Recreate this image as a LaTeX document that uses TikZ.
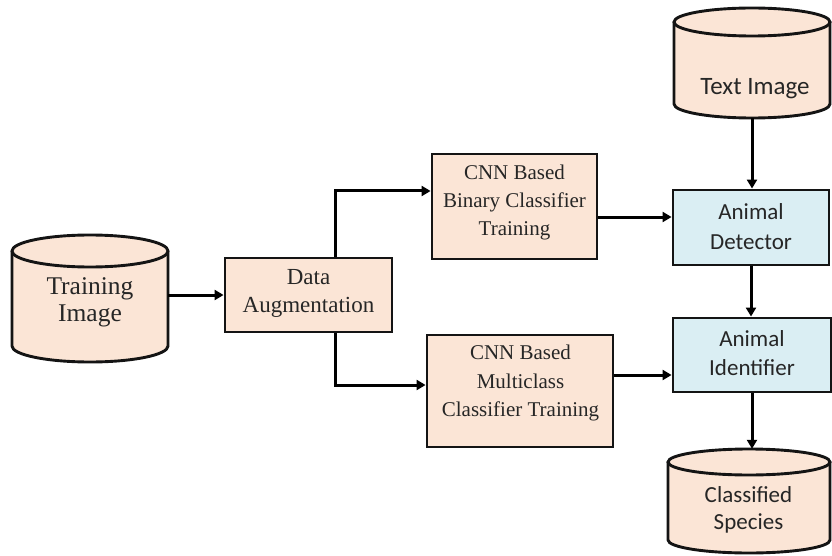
\documentclass[tikz,border=0pt]{standalone}
\usepackage{fontspec}
\setmainfont{Liberation Serif}
\newfontfamily\calfont{Carlito}
\usetikzlibrary{arrows.meta}

\definecolor{peach}{HTML}{FBE5D6}
\definecolor{paleblue}{HTML}{DAEEF3}
\definecolor{inkline}{HTML}{141414}
\definecolor{inktext}{HTML}{262626}

\tikzset{
  outline/.style={draw=inkline, line width=2.9pt},
  stage/.style={outline, fill=peach, rectangle, inner sep=0pt},
  module/.style={outline, fill=paleblue, rectangle, inner sep=0pt},
  hull/.style={draw=none, fill=none, rectangle, inner sep=0pt},
  serifcap/.style={text=inktext, align=center, inner sep=0pt},
  sanscap/.style={text=inktext, align=center, inner sep=0pt,
    font=\calfont\fontsize{23}{30}\selectfont},
  flow/.style={draw=black, line width=3pt,
    -{Triangle[length=9pt,width=10pt]}},
}

% database drum: centre x, x radius, top rim y, bottom rim y, rim y radius
\newcommand\drum[5]{%
  \fill[peach] (#1-#2,#3) -- (#1-#2,#4)
    arc[start angle=180,end angle=360,x radius=#2pt,y radius=#5pt]
    -- (#1+#2,#3) -- cycle;
  \draw[outline] (#1-#2,#3) -- (#1-#2,#4)
    arc[start angle=180,end angle=360,x radius=#2pt,y radius=#5pt]
    -- (#1+#2,#3);
  \draw[outline, fill=peach] (#1,#3) ellipse[x radius=#2pt,y radius=#5pt];
}

\begin{document}
\begin{tikzpicture}[x=1pt,y=-1pt]
\useasboundingbox (0,0) rectangle (832,556);

% ---- data stores -------------------------------------------------
\drum{90}{78}{251}{346}{16}
\node[hull, minimum width=156pt, minimum height=127pt] (train) at (90,298.5) {};
\node[serifcap, font=\fontsize{25.5}{27}\selectfont] (traintext) at (90,302)
  {Training\\Image};

\drum{752}{78}{22}{104}{14}
\node[hull, minimum width=156pt, minimum height=110pt] (testimg) at (752,63) {};
\node[sanscap, font=\calfont\fontsize{25}{30}\selectfont] (testtext) at (755,89)
  {Text Image};

\drum{749}{81}{462}{540}{13}
\node[hull, minimum width=162pt, minimum height=104pt] (species) at (749,501) {};
\node[sanscap, font=\calfont\fontsize{23}{27}\selectfont] (speciestext) at (748.5,510)
  {Classified\\Species};

% ---- processing stages -------------------------------------------
\node[stage, minimum width=167pt, minimum height=74pt] (augment) at (308.5,295) {};
\node[serifcap, font=\fontsize{23}{28}\selectfont] (augmenttext) at (308.5,293)
  {Data\\Augmentation};

\node[stage, minimum width=165pt, minimum height=105pt] (binary) at (514.5,206.5) {};
\node[serifcap, font=\fontsize{21}{28}\selectfont] (binarytext) at (514.5,202)
  {CNN Based\\Binary Classifier\\Training};

\node[stage, minimum width=186pt, minimum height=112pt] (multi) at (520,391) {};
\node[serifcap, font=\fontsize{21}{28.5}\selectfont] (multitext) at (520.5,383)
  {CNN Based\\Multiclass\\Classifier Training};

\node[module, minimum width=156pt, minimum height=75pt] (detector) at (751,227.5) {};
\node[sanscap] (detectortext) at (751,227) {Animal\\Detector};

\node[module, minimum width=158pt, minimum height=74pt] (identifier) at (752,355) {};
\node[sanscap, font=\calfont\fontsize{23}{29}\selectfont] (identifiertext) at (752,353)
  {Animal\\Identifier};

% ---- connectors --------------------------------------------------
\draw[flow] (train.east |- augment.west) -- (augment.west);
\draw[flow] ([xshift=26.5pt]augment.north) |- ([yshift=15.5pt]binary.west);
\draw[flow] ([xshift=26.5pt]augment.south) |- ([yshift=6pt]multi.west);
\draw[flow] ([yshift=-10.5pt]binary.east) -- ([yshift=-10.5pt]binary.east -| detector.west);
\draw[flow] ([yshift=16pt]multi.east) -- ([yshift=16pt]multi.east -| identifier.west);
\draw[flow] (testimg.south) -- (testimg.south |- detector.north);
\draw[flow] (detector.south) -- (detector.south |- identifier.north);
\draw[flow] (identifier.south) -- (identifier.south |- species.north);
\end{tikzpicture}
\end{document}
